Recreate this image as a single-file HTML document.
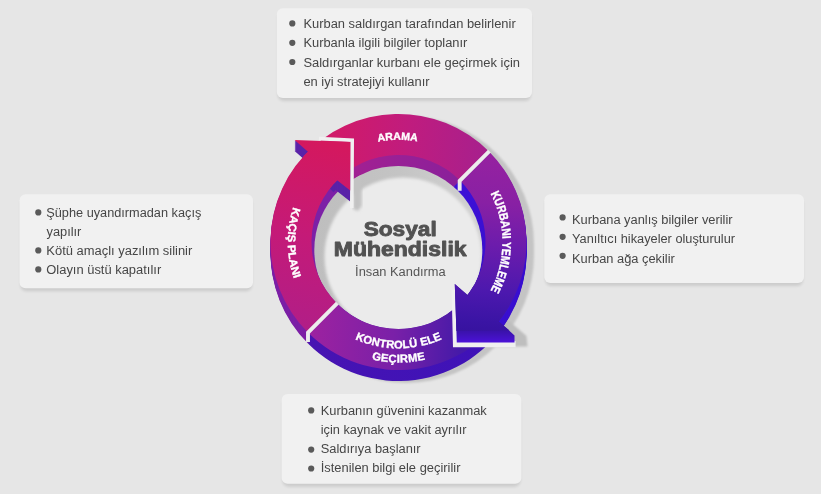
<!DOCTYPE html>
<html><head><meta charset="utf-8"><title>Sosyal Mühendislik</title>
<style>
html,body{margin:0;padding:0;background:#e6e6e6;}
body{width:821px;height:494px;overflow:hidden;font-family:"Liberation Sans",sans-serif;}
svg{display:block;will-change:transform;}
text{font-family:"Liberation Sans",sans-serif;}
.bt{font-size:12.85px;fill:#464646;}
.rt{font-weight:bold;fill:#fff;stroke:#fff;stroke-width:0.35px;}
</style></head><body>
<svg width="821" height="494" viewBox="0 0 821 494">
<defs>
<linearGradient id="gface" gradientUnits="userSpaceOnUse" x1="300" y1="150" x2="500" y2="340">
<stop offset="0" stop-color="#dc185e"/><stop offset="0.5" stop-color="#a3208e"/><stop offset="1" stop-color="#3a14a6"/>
</linearGradient>
<linearGradient id="gwall" gradientUnits="userSpaceOnUse" x1="290" y1="160" x2="500" y2="350">
<stop offset="0" stop-color="#5e1aaa"/><stop offset="0.35" stop-color="#4a14b0"/><stop offset="1" stop-color="#3e12b8"/>
</linearGradient>
<linearGradient id="g_kacis" gradientUnits="userSpaceOnUse" x1="335" y1="145" x2="300" y2="335">
<stop offset="0" stop-color="#d4185e"/><stop offset="0.5" stop-color="#c41a78"/><stop offset="1" stop-color="#b01e88"/>
</linearGradient>
<linearGradient id="g_arama" gradientUnits="userSpaceOnUse" x1="340" y1="130" x2="490" y2="150">
<stop offset="0" stop-color="#d01a6a"/><stop offset="0.45" stop-color="#c01c7e"/><stop offset="1" stop-color="#a6208e"/>
</linearGradient>
<linearGradient id="g_kurbani" gradientUnits="userSpaceOnUse" x1="500" y1="155" x2="490" y2="335">
<stop offset="0" stop-color="#9622a0"/><stop offset="0.27" stop-color="#8820a4"/><stop offset="0.5" stop-color="#6c1cac"/><stop offset="0.76" stop-color="#4c18ae"/><stop offset="0.93" stop-color="#3a14a4"/><stop offset="1" stop-color="#36129e"/>
</linearGradient>
<linearGradient id="g_kontrol" gradientUnits="userSpaceOnUse" x1="312" y1="330" x2="460" y2="345">
<stop offset="0" stop-color="#9c22a0"/><stop offset="0.55" stop-color="#7a20a8"/><stop offset="1" stop-color="#461aa8"/>
</linearGradient>
<linearGradient id="gw_arama" gradientUnits="userSpaceOnUse" x1="340" y1="130" x2="470" y2="180">
<stop offset="0" stop-color="#a82090"/><stop offset="1" stop-color="#86209c"/>
</linearGradient>
<linearGradient id="gw_br" gradientUnits="userSpaceOnUse" x1="0" y1="327" x2="0" y2="342.5">
<stop offset="0" stop-color="#36129e"/><stop offset="0.35" stop-color="#3c12b0"/><stop offset="1" stop-color="#4c12d8"/>
</linearGradient>
<linearGradient id="gfsh" gradientUnits="userSpaceOnUse" x1="314" y1="0" x2="484" y2="0">
<stop offset="0" stop-color="#bebebe"/><stop offset="0.5" stop-color="#c4c4c4"/><stop offset="1" stop-color="#d2d2d2"/>
</linearGradient>
<linearGradient id="gw_kin" gradientUnits="userSpaceOnUse" x1="0" y1="180" x2="0" y2="300">
<stop offset="0" stop-color="#3c10d8"/><stop offset="0.6" stop-color="#3a10d0"/><stop offset="1" stop-color="#3412b0"/>
</linearGradient>
<radialGradient id="gfloor" gradientUnits="userSpaceOnUse" cx="398.5" cy="253" r="87">
<stop offset="0" stop-color="#ececec"/><stop offset="0.78" stop-color="#ececec"/><stop offset="0.9" stop-color="#d6d6d6"/><stop offset="1" stop-color="#b0b0b0"/>
</radialGradient>
<filter id="bsh" x="-5%" y="-10%" width="110%" height="130%"><feGaussianBlur stdDeviation="1.6"/></filter>
<filter id="rsh" x="-10%" y="-10%" width="120%" height="120%"><feGaussianBlur stdDeviation="0.9"/></filter>
<filter id="fsh" x="-10%" y="-10%" width="120%" height="120%"><feGaussianBlur stdDeviation="1.8"/></filter>
<clipPath id="holeBot"><circle cx="398.3" cy="250" r="84"/></clipPath>
<clipPath id="holeTop"><circle cx="398.5" cy="242" r="87"/></clipPath>

<path id="s_arama" d="M303.38,156.35 A128.0,128.0 0 0 1 489.01,151.49 L460.02,180.48 A87.0,87.0 0 0 0 333.85,183.79 Z"/>
<path id="s_kurbani" d="M489.01,151.49 A128.0,128.0 0 0 1 496.55,324.28 L465.15,297.92 A87.0,87.0 0 0 0 460.02,180.48 Z"/>
<path id="s_kontrol" d="M509.35,306.00 A128.0,128.0 0 0 1 307.99,332.51 L336.98,303.52 A87.0,87.0 0 0 0 473.84,285.50 Z"/>
<path id="s_kacis" d="M307.99,332.51 A128.0,128.0 0 0 1 312.85,146.88 L340.29,177.35 A87.0,87.0 0 0 0 336.98,303.52 Z"/>
<polygon id="aTL" points="294.6,140 350.2,142 350.2,190.6 335.6,179.1 333.5,181.2 307.3,155 309.4,152.9"/>
<polygon id="aBR" points="454.8,284 456.4,331 509.5,330.5 505.2,327.0 498.5,321.3 500.3,319 469.5,293.5 467.7,295.7"/>
<path id="p_arama" d="M339.82,158.20 A102.3,102.3 0 0 1 457.18,158.20"/>
<path id="p_kurbani" d="M465.35,162.33 A104,104 0 0 1 465.35,321.67"/>
<path id="p_kacis" d="M327.28,157.12 A110.8,110.8 0 0 0 327.28,326.88"/>
<path id="p_kontrol" d="M306.35,295.20 A106.4,106.4 0 0 0 490.65,295.20"/>
<path id="p_gecirme" d="M294.14,302.25 A120.5,120.5 0 0 0 502.86,302.25"/>
</defs>
<rect width="821" height="494" fill="#e6e6e6"/>
<rect x="277.8" y="11.3" width="253.2" height="89.6" rx="6" fill="#000" opacity="0.11" filter="url(#bsh)"/>
<rect x="276.8" y="8.3" width="255.2" height="89.6" rx="6" fill="#f1f1f1"/>
<rect x="20.5" y="197.3" width="231.5" height="94" rx="6" fill="#000" opacity="0.11" filter="url(#bsh)"/>
<rect x="19.5" y="194.3" width="233.5" height="94" rx="6" fill="#f1f1f1"/>
<rect x="545.3" y="197.3" width="257.7" height="88.7" rx="6" fill="#000" opacity="0.11" filter="url(#bsh)"/>
<rect x="544.3" y="194.3" width="259.7" height="88.7" rx="6" fill="#f1f1f1"/>
<rect x="282.6" y="397" width="237.8" height="89.8" rx="6" fill="#000" opacity="0.11" filter="url(#bsh)"/>
<rect x="281.6" y="394" width="239.8" height="89.8" rx="6" fill="#f1f1f1"/>
<circle cx="292.3" cy="23.4" r="3.1" fill="#5a5a5a"/>
<text class="bt" x="303.4" y="27.8" textLength="212.3" lengthAdjust="spacingAndGlyphs">Kurban saldırgan tarafından belirlenir</text>
<circle cx="292.3" cy="42.8" r="3.1" fill="#5a5a5a"/>
<text class="bt" x="303.4" y="47.2" textLength="164.0" lengthAdjust="spacingAndGlyphs">Kurbanla ilgili bilgiler toplanır</text>
<circle cx="292.3" cy="62.0" r="3.1" fill="#5a5a5a"/>
<text class="bt" x="303.4" y="66.6" textLength="216.6" lengthAdjust="spacingAndGlyphs">Saldırganlar kurbanı ele geçirmek için</text>
<text class="bt" x="303.4" y="86.0" textLength="126.2" lengthAdjust="spacingAndGlyphs">en iyi stratejiyi kullanır</text>
<circle cx="38.3" cy="212.4" r="3.1" fill="#5a5a5a"/>
<text class="bt" x="46.3" y="216.8" textLength="155.0" lengthAdjust="spacingAndGlyphs">Şüphe uyandırmadan kaçış</text>
<text class="bt" x="46.5" y="235.7" textLength="34.9" lengthAdjust="spacingAndGlyphs">yapılır</text>
<circle cx="38.3" cy="250.4" r="3.1" fill="#5a5a5a"/>
<text class="bt" x="46.3" y="254.7" textLength="146.0" lengthAdjust="spacingAndGlyphs">Kötü amaçlı yazılım silinir</text>
<circle cx="38.3" cy="269.4" r="3.1" fill="#5a5a5a"/>
<text class="bt" x="46.3" y="273.6" textLength="114.9" lengthAdjust="spacingAndGlyphs">Olayın üstü kapatılır</text>
<circle cx="562.6" cy="217.4" r="3.1" fill="#5a5a5a"/>
<text class="bt" x="572.0" y="223.9" textLength="160.6" lengthAdjust="spacingAndGlyphs">Kurbana yanlış bilgiler verilir</text>
<circle cx="562.6" cy="236.8" r="3.1" fill="#5a5a5a"/>
<text class="bt" x="572.0" y="243.2" textLength="163.0" lengthAdjust="spacingAndGlyphs">Yanıltıcı hikayeler oluşturulur</text>
<circle cx="562.6" cy="255.8" r="3.1" fill="#5a5a5a"/>
<text class="bt" x="572.0" y="262.5">Kurban ağa çekilir</text>
<circle cx="311.2" cy="410.4" r="3.1" fill="#5a5a5a"/>
<text class="bt" x="320.7" y="414.7" textLength="166.1" lengthAdjust="spacingAndGlyphs">Kurbanın güvenini kazanmak</text>
<text class="bt" x="320.7" y="433.6" textLength="145.8" lengthAdjust="spacingAndGlyphs">için kaynak ve vakit ayrılır</text>
<circle cx="311.2" cy="449.6" r="3.1" fill="#5a5a5a"/>
<text class="bt" x="320.7" y="452.6">Saldırıya başlanır</text>
<circle cx="311.2" cy="468.5" r="3.1" fill="#5a5a5a"/>
<text class="bt" x="320.7" y="471.5" textLength="139.8" lengthAdjust="spacingAndGlyphs">İstenilen bilgi ele geçirilir</text>
<g filter="url(#rsh)">
<path transform="translate(7.5,2)" fill="#c4c4c4" d="M270.5,242.0 A128.0,128.0 0 0 1 526.5,242.0 L526.5,253.0 A128.0,128.0 0 0 1 270.5,253.0 Z"/>
<polygon transform="translate(12,0.5)" fill="#bebebe" points="455,284 452,346 515.5,346 514.5,335.4 505.2,327.6"/>
</g>
<use href="#s_arama" transform="translate(0,11)" fill="url(#gw_arama)"/><use href="#s_arama" transform="translate(0,10)" fill="url(#gw_arama)"/><use href="#s_arama" transform="translate(0,9)" fill="url(#gw_arama)"/><use href="#s_arama" transform="translate(0,8)" fill="url(#gw_arama)"/><use href="#s_arama" transform="translate(0,7)" fill="url(#gw_arama)"/><use href="#s_arama" transform="translate(0,6)" fill="url(#gw_arama)"/><use href="#s_arama" transform="translate(0,5)" fill="url(#gw_arama)"/><use href="#s_arama" transform="translate(0,4)" fill="url(#gw_arama)"/><use href="#s_arama" transform="translate(0,3)" fill="url(#gw_arama)"/><use href="#s_arama" transform="translate(0,2)" fill="url(#gw_arama)"/><use href="#s_arama" transform="translate(0,1)" fill="url(#gw_arama)"/>
<use href="#s_kacis" transform="translate(0,11)" fill="#7c20a6"/><use href="#s_kacis" transform="translate(0,10)" fill="#7c20a6"/><use href="#s_kacis" transform="translate(0,9)" fill="#7c20a6"/><use href="#s_kacis" transform="translate(0,8)" fill="#7c20a6"/><use href="#s_kacis" transform="translate(0,7)" fill="#7c20a6"/><use href="#s_kacis" transform="translate(0,6)" fill="#7c20a6"/><use href="#s_kacis" transform="translate(0,5)" fill="#7c20a6"/><use href="#s_kacis" transform="translate(0,4)" fill="#7c20a6"/><use href="#s_kacis" transform="translate(0,3)" fill="#7c20a6"/><use href="#s_kacis" transform="translate(0,2)" fill="#7c20a6"/><use href="#s_kacis" transform="translate(0,1)" fill="#7c20a6"/>
<use href="#s_kontrol" transform="translate(0,11)" fill="url(#gwall)"/><use href="#s_kontrol" transform="translate(0,10)" fill="url(#gwall)"/><use href="#s_kontrol" transform="translate(0,9)" fill="url(#gwall)"/><use href="#s_kontrol" transform="translate(0,8)" fill="url(#gwall)"/><use href="#s_kontrol" transform="translate(0,7)" fill="url(#gwall)"/><use href="#s_kontrol" transform="translate(0,6)" fill="url(#gwall)"/><use href="#s_kontrol" transform="translate(0,5)" fill="url(#gwall)"/><use href="#s_kontrol" transform="translate(0,4)" fill="url(#gwall)"/><use href="#s_kontrol" transform="translate(0,3)" fill="url(#gwall)"/><use href="#s_kontrol" transform="translate(0,2)" fill="url(#gwall)"/><use href="#s_kontrol" transform="translate(0,1)" fill="url(#gwall)"/>
<use href="#s_kurbani" transform="translate(0,11)" fill="#3a10d0"/><use href="#s_kurbani" transform="translate(0,10)" fill="#3a10d0"/><use href="#s_kurbani" transform="translate(0,9)" fill="#3a10d0"/><use href="#s_kurbani" transform="translate(0,8)" fill="#3a10d0"/><use href="#s_kurbani" transform="translate(0,7)" fill="#3a10d0"/><use href="#s_kurbani" transform="translate(0,6)" fill="#3a10d0"/><use href="#s_kurbani" transform="translate(0,5)" fill="#3a10d0"/><use href="#s_kurbani" transform="translate(0,4)" fill="#3a10d0"/><use href="#s_kurbani" transform="translate(0,3)" fill="#3a10d0"/><use href="#s_kurbani" transform="translate(0,2)" fill="#3a10d0"/><use href="#s_kurbani" transform="translate(0,1)" fill="#3a10d0"/>
<path d="M398.5,242.0 L336.27,179.77 A88,88 0 0 1 460.73,179.77 Z" fill="url(#gw_arama)"/>
<path d="M398.5,242.0 L336.27,304.23 A88,88 0 0 1 337.37,178.70 Z" fill="#7c20a6"/>
<path d="M398.5,242.0 L470.59,292.47 A88,88 0 0 1 336.27,304.23 Z" fill="url(#gwall)"/>
<path d="M398.5,242.0 L460.73,179.77 A88,88 0 0 1 465.91,298.57 Z" fill="url(#gw_kin)"/>
<g clip-path="url(#holeTop)"><g clip-path="url(#holeBot)"><rect x="300" y="150" width="200" height="200" fill="url(#gfsh)"/><ellipse cx="403" cy="256.5" rx="78.5" ry="79" fill="#ebebeb" filter="url(#fsh)"/><polygon points="353,150 361.8,150 361.8,206 358,211 353,209" fill="#c2c2c2" filter="url(#fsh)"/></g></g>
<use href="#aTL" transform="translate(0,11)" fill="#5a22a8"/><use href="#aTL" transform="translate(0,10)" fill="#5a22a8"/><use href="#aTL" transform="translate(0,9)" fill="#5a22a8"/><use href="#aTL" transform="translate(0,8)" fill="#5a22a8"/><use href="#aTL" transform="translate(0,7)" fill="#5a22a8"/><use href="#aTL" transform="translate(0,6)" fill="#5a22a8"/><use href="#aTL" transform="translate(0,5)" fill="#5a22a8"/><use href="#aTL" transform="translate(0,4)" fill="#5a22a8"/><use href="#aTL" transform="translate(0,3)" fill="#5a22a8"/><use href="#aTL" transform="translate(0,2)" fill="#5a22a8"/><use href="#aTL" transform="translate(0,1)" fill="#5a22a8"/>
<use href="#s_arama" fill="url(#g_arama)"/>
<use href="#s_kacis" fill="url(#g_kacis)"/>
<use href="#s_kontrol" fill="url(#g_kontrol)"/>
<use href="#s_kurbani" fill="url(#g_kurbani)"/>
<path d="M459.66,190.84 L459.66,180.84 L489.36,151.14" fill="none" stroke="#ececec" stroke-width="3.9"/>
<path d="M337.34,303.16 L307.99,332.51 L307.99,342.01" fill="none" stroke="#ececec" stroke-width="3.9"/>
<path d="M319,138.6 L352.2,140.2 L351.8,208" fill="none" stroke="#f0f0f0" stroke-width="3.6"/>
<use href="#aTL" fill="url(#g_kacis)"/>
<polygon points="451.6,290 453,347.2 515.6,347.2 515.6,341 458,341 456,290" fill="#f0f0f0"/>
<polygon points="454.8,284 456.8,342.4 514.5,342.4 514.5,335.4 505.2,327.0" fill="url(#gw_br)"/>
<use href="#aBR" fill="url(#g_kurbani)"/>
<text class="rt" font-size="10.6"><textPath href="#p_arama" startOffset="49.3%" text-anchor="middle">ARAMA</textPath></text>
<text class="rt" font-size="12.4"><textPath href="#p_kurbani" startOffset="50%" text-anchor="middle" textLength="101" lengthAdjust="spacingAndGlyphs">KURBANI YEMLEME</textPath></text>
<text class="rt" font-size="11"><textPath href="#p_kacis" startOffset="50.5%" text-anchor="middle" textLength="73" lengthAdjust="spacingAndGlyphs">KAÇIŞ PLANI</textPath></text>
<text class="rt" font-size="11.2"><textPath href="#p_kontrol" startOffset="50%" text-anchor="middle" textLength="89.6">KONTROLÜ ELE</textPath></text>
<text class="rt" font-size="11.2"><textPath href="#p_gecirme" startOffset="50%" text-anchor="middle" textLength="54">GEÇIRME</textPath></text>
<text x="363.7" y="236.1" font-size="20" font-weight="bold" fill="#525252" stroke="#525252" stroke-width="0.9" stroke-linejoin="round" textLength="73" lengthAdjust="spacingAndGlyphs">Sosyal</text>
<text x="333.8" y="255.7" font-size="20" font-weight="bold" fill="#525252" stroke="#525252" stroke-width="0.9" stroke-linejoin="round" textLength="132.8" lengthAdjust="spacingAndGlyphs">Mühendislik</text>
<text x="355.1" y="275.6" font-size="12.85" fill="#555" textLength="90.6">İnsan Kandırma</text>
</svg></body></html>
